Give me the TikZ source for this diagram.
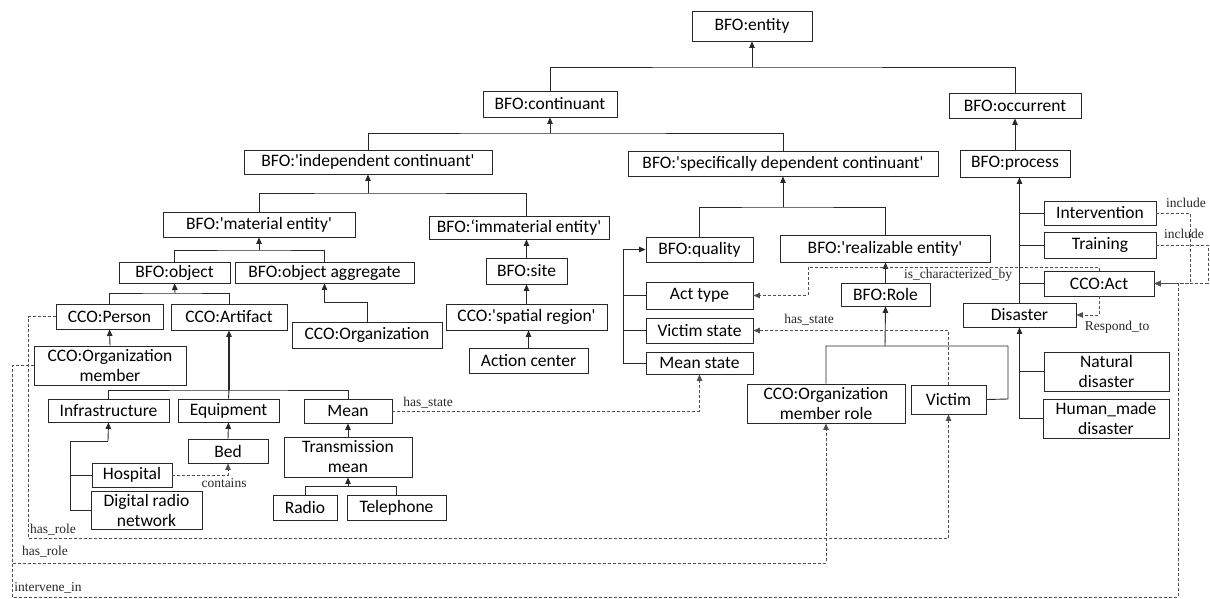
\documentclass[tikz,border=0pt]{standalone}
\usepackage{fontspec}
\setmainfont{Carlito}
\newfontfamily\relfont{Liberation Serif}
\usetikzlibrary{arrows.meta}
\definecolor{ln}{RGB}{40,40,40}
\definecolor{dl}{RGB}{80,80,80}
\newcommand\myq{\textquotesingle}
\tikzset{
 box/.style={draw=ln,line width=0.9pt,inner sep=0pt,align=center,font=\fontsize{17.5}{20}\selectfont},
 tree/.style={draw=ln,line width=0.9pt},
 arr/.style={tree,-{Triangle[length=6.5pt,width=5.5pt]}},
 rel/.style={draw=dl,line width=0.9pt,dash pattern=on 3pt off 2pt,-{Triangle[length=6.5pt,width=5.5pt]}},
 lab/.style={font=\relfont\fontsize{13.5}{15}\selectfont,inner sep=0pt,text=ln},
}
\newcommand\obox[6]{\node[box,minimum width={(#3-#2)*1pt},minimum height={(#5-#4)*1pt}] (#1) at ({(#2+#3)/2},{(#4+#5)/2}) {#6};}
\begin{document}
\begin{tikzpicture}[x=1pt,y=-1pt]
\useasboundingbox[fill=white] (0,0) rectangle (1210,598);
% boxes
\obox{entity}{692}{812}{11}{41}{BFO:entity}
\obox{continuant}{483}{617}{91}{117}{BFO:continuant}
\obox{occurrent}{949}{1081}{93}{118}{BFO:occurrent}
\obox{ic}{244}{492}{150}{174}{BFO:\myq independent continuant\myq}
\obox{sdc}{628}{938}{151}{176}{BFO:\myq specifically dependent continuant\myq}
\obox{process}{960}{1070}{150}{177}{BFO:process}
\obox{material}{163}{355}{212}{237}{BFO:\myq material entity\myq}
\obox{immat}{429}{609}{216}{239}{BFO:‘immaterial entity\myq}
\obox{object}{119}{230}{262}{283}{BFO:object}
\obox{objagg}{235}{414}{262}{283}{BFO:object aggregate}
\obox{site}{486}{567}{258}{284}{BFO:site}
\obox{person}{56}{163}{304}{329}{CCO:Person}
\obox{artifact}{171}{287}{304}{330}{CCO:Artifact}
\obox{organization}{292}{442}{322}{348}{CCO:Organization}
\obox{spatial}{446}{607}{304}{330}{CCO:\myq spatial region\myq}
\obox{action}{469}{588}{348}{373}{Action center}
\obox{orgmember}{34}{186}{346}{385}{CCO:Organization\\member}
\obox{infra}{48}{169}{399}{422}{Infrastructure}
\obox{equipment}{178}{279}{399}{422}{Equipment}
\obox{mean}{304}{392}{399}{423}{Mean}
\obox{bed}{188}{268}{439}{463}{Bed}
\obox{hospital}{92}{172}{463}{487}{Hospital}
\obox{digital}{91}{202}{491}{529}{Digital radio\\network}
\obox{transmission}{284}{412}{437}{477}{Transmission\\mean}
\obox{radio}{273}{337}{495}{520}{Radio}
\obox{telephone}{347}{446}{495}{520}{Telephone}
\obox{quality}{646}{753}{237}{262}{BFO:quality}
\obox{realizable}{780}{990}{235}{262}{BFO:\myq realizable entity\myq}
\obox{acttype}{646}{753}{282}{309}{Act type}
\obox{victimstate}{646}{753}{318}{343}{Victim state}
\obox{meanstate}{646}{753}{352}{374}{Mean state}
\obox{role}{841}{930}{283}{306}{BFO:Role}
\obox{omrole}{747}{905}{384}{423}{CCO:Organization\\member role}
\obox{victim}{911}{986}{385}{414}{Victim}
\obox{intervention}{1044}{1156}{201}{225}{Intervention}
\obox{training}{1044}{1156}{232}{258}{Training}
\obox{act}{1044}{1154}{271}{296}{CCO:Act}
\obox{disaster}{963}{1076}{303}{327}{Disaster}
\obox{natural}{1044}{1169}{352}{391}{Natural\\disaster}
\obox{humanmade}{1043}{1169}{399}{438}{Human\_made\\disaster}
% bus coordinates
\coordinate (b1) at (752,67);
\coordinate (b2) at (550,133);
\coordinate (b3) at (368,193);
\coordinate (b4) at (259,250);
\coordinate (b5) at (175,293);
\coordinate (b6) at (229,390);
\coordinate (b7) at (108,441);
\coordinate (b7x) at (70,441);
\coordinate (b8) at (348,486);
\coordinate (b9) at (783,207);
\coordinate (qb) at (623,363);
\coordinate (b11) at (885,346);
\coordinate (rb) at (1008,399);
\coordinate (og) at (367,302);
% tree connectors
\draw[arr] (b1) -- (entity.south);
\draw[tree] (continuant.north) |- (b1) -| (occurrent.north);
\draw[arr] (occurrent.south |- process.north) -- (occurrent.south);
\draw[arr] (b2) -- (continuant.south);
\draw[tree] (ic.north) |- (b2) -| (sdc.north);
\draw[arr] (b3) -- (ic.south);
\draw[tree] (material.north) |- (b3) -| (site.north |- immat.north);
\draw[arr] (b4) -- (material.south);
\draw[tree] (object.north) |- (b4) -| (objagg.north);
\draw[arr] (b5) -- (object.south);
\draw[tree] (person.north) |- (b5) -| (artifact.north);
\draw[arr] (organization.north) -- (og) -| (objagg.south);
\draw[arr] (site.north) -- (site.north |- immat.south);
\draw[arr] (spatial.north) -- (site.south);
\draw[arr] (action.north) -- (action.north |- spatial.south);
\draw[arr] (orgmember.north) -- (person.south);
\draw[arr,line width=1.3pt] (b6) -- (artifact.south);
\draw[tree] (infra.north) |- (b6) -| (mean.north);
\draw[tree] (equipment.north) -- (b6);
\draw[arr] (b7) -- (infra.south);
\draw[tree] (b7) -- (b7x) |- (digital.west);
\draw[tree] (hospital.west) -- (hospital.west -| b7x);
\draw[arr] (bed.north) -- (equipment.south);
\draw[arr] (transmission.north) -- (mean.south);
\draw[arr] (b8) -- (transmission.south);
\draw[tree] (radio.north) |- (b8) -| (telephone.north);
\draw[arr] (b9) -- (sdc.south);
\draw[tree] (quality.north) |- (b9) -| (realizable.north);
\draw[arr] (qb) |- (quality.west);
\draw[tree] (acttype.west) -- (acttype.west -| qb);
\draw[tree] (victimstate.west) -- (victimstate.west -| qb);
\draw[tree] (meanstate.west) -- (qb);
\draw[arr] (role.north) -- (role.north |- realizable.south);
\draw[arr] (b11) -- (role.south);
\draw[tree] (omrole.north) |- (b11) -| (rb) -- (victim.east);
\draw[arr] (disaster.north) -- (disaster.north |- process.south);
\draw[tree] (intervention.west) -- (intervention.west -| disaster.north);
\draw[tree] (training.west) -- (training.west -| disaster.north);
\draw[tree] (act.west) -- (act.west -| disaster.north);
\draw[arr] (humanmade.west) -| (disaster.south);
\draw[tree] (natural.west) -- (natural.west -| disaster.south);
% relations
\coordinate (c1) at (808,267);
\coordinate (c2) at (1190,283.5);
\coordinate (c3) at (1208,283.5);
\coordinate (c4) at (28,538);
\coordinate (c5) at (12,563);
\coordinate (c6) at (12,597);
\coordinate (c7) at (1178,283.5);
\draw[rel] (act.north) |- (c1) |- (acttype.east);
\draw[rel] (victim.north) |- (victimstate.east);
\draw[rel] (mean.east) -| (meanstate.south);
\draw[rel] (hospital.east) -| (bed.south);
\draw[rel] (act.south) |- (disaster.east);
\draw[rel] (intervention.east) -| (c2) -- (act.east);
\draw[rel] (training.east) -| (c3) -- (act.east);
\draw[rel] (person.west) -| (c4) -| (victim.south);
\draw[rel] (orgmember.west) -| (c5) -| (omrole.south);
\draw[rel] (orgmember.west) -| (c6) -| (c7) -- (act.east);
% labels
\node[lab] (l1) at (958,275) {is\_characterized\_by};
\node[lab] (l2) at (809,320) {has\_state};
\node[lab] (l3) at (428,403) {has\_state};
\node[lab] (l4) at (224,483) {contains};
\node[lab] (l5) at (1117,327) {Respond\_to};
\node[lab] (l6) at (1186,203) {include};
\node[lab] (l7) at (1184,234) {include};
\node[lab] (l8) at (53,530) {has\_role};
\node[lab] (l9) at (45,552) {has\_role};
\node[lab] (l10) at (48,588) {intervene\_in};
\end{tikzpicture}
\end{document}
